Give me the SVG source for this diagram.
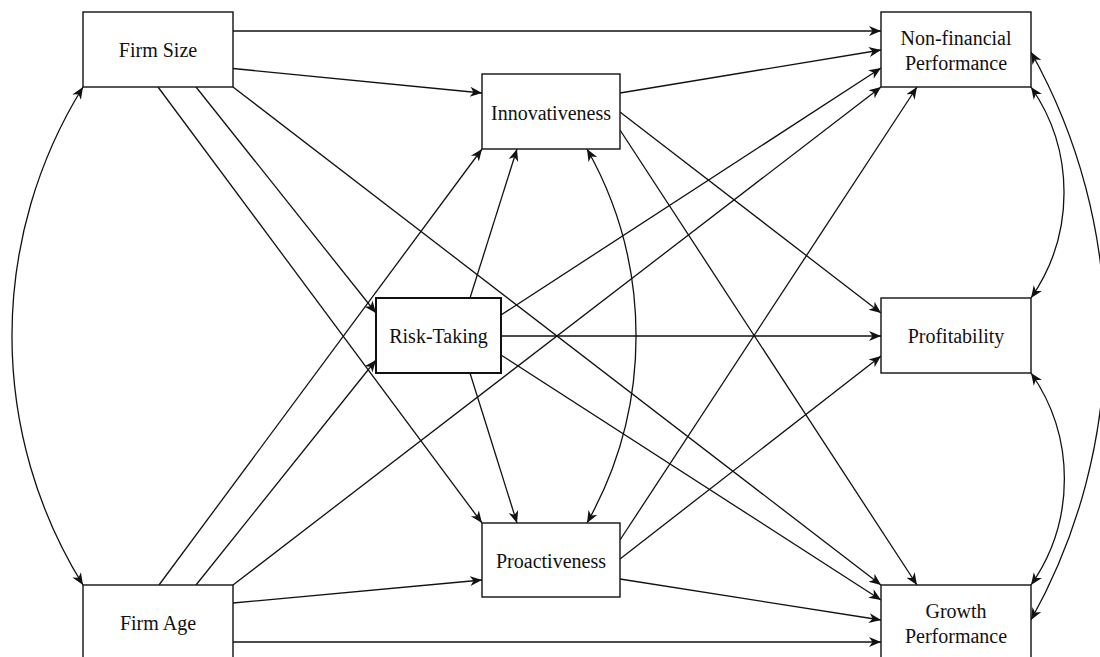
<svg xmlns="http://www.w3.org/2000/svg" width="1100" height="657" viewBox="0 0 1100 657">
  <style>
    .box { fill: #ffffff; stroke: #111111; stroke-width: 1.4; }
    .box.thick { stroke-width: 2; }
    .lbl { font-family: "Liberation Serif", "Times New Roman", serif; font-size: 20px; fill: #111111; text-anchor: middle; }
    .edge { fill: none; stroke: #111111; stroke-width: 1.3; marker-end: url(#head); }
    .both { fill: none; stroke: #111111; stroke-width: 1.3; marker-start: url(#head); marker-end: url(#head); }
  </style>
  <defs>
    <marker id="head" viewBox="0 -6 13 12" refX="12" refY="0" markerWidth="13" markerHeight="12" markerUnits="userSpaceOnUse" orient="auto-start-reverse">
      <path d="M0,-5 L12,0 L0,5 L3.5,0 Z" fill="#111111"/>
    </marker>
  </defs>
  <rect width="1100" height="657" fill="#ffffff"/>

  <g id="connectors">
    <!-- Firm Size -->
    <path class="edge" d="M233,31 L881,31"/>
    <path class="edge" d="M233,68.5 L482,93"/>
    <path class="edge" d="M196,87 L376,313"/>
    <path class="edge" d="M158,87 L482,523"/>
    <path class="edge" d="M233,87 L881,585"/>
    <!-- Firm Age -->
    <path class="edge" d="M159,585 L482,149"/>
    <path class="edge" d="M196,585 L376,360"/>
    <path class="edge" d="M233,585 L881,87"/>
    <path class="edge" d="M233,603 L482,580"/>
    <path class="edge" d="M233,642 L881,642"/>
    <!-- Innovativeness -->
    <path class="edge" d="M620,93 L881,50"/>
    <path class="edge" d="M620,112 L881,313"/>
    <path class="edge" d="M620,130 L917,585"/>
    <!-- Risk-Taking -->
    <path class="edge" d="M470,298 L517,149"/>
    <path class="edge" d="M470,373 L517,523"/>
    <path class="edge" d="M501,315 L881,68"/>
    <path class="edge" d="M501,336 L881,336"/>
    <path class="edge" d="M501,355 L881,600"/>
    <!-- Proactiveness -->
    <path class="edge" d="M620,540 L917,87"/>
    <path class="edge" d="M620,559 L881,356"/>
    <path class="edge" d="M620,579 L881,620"/>
    <!-- Covariances -->
    <path class="both" d="M83,87 A472,472 0 0,0 83,585"/>
    <path class="both" d="M587,149 A381,381 0 0,1 587,523"/>
    <path class="both" d="M1031,87 A185,185 0 0,1 1031,298"/>
    <path class="both" d="M1031,373 A185,185 0 0,1 1031,585"/>
    <path class="both" d="M1031,52 A582,582 0 0,1 1031,620"/>
  </g>

  <g id="firm-size">
    <rect class="box" x="83" y="12" width="150" height="75"/>
    <text class="lbl" x="158" y="57">Firm Size</text>
  </g>
  <g id="firm-age">
    <rect class="box" x="83" y="585" width="150" height="75"/>
    <text class="lbl" x="158" y="630">Firm Age</text>
  </g>
  <g id="innovativeness">
    <rect class="box" x="482" y="74" width="138" height="75"/>
    <text class="lbl" x="551" y="119.5">Innovativeness</text>
  </g>
  <g id="risk-taking">
    <rect class="box thick" x="376" y="298" width="125" height="75"/>
    <text class="lbl" x="438.5" y="343">Risk-Taking</text>
  </g>
  <g id="proactiveness">
    <rect class="box" x="482" y="523" width="138" height="74"/>
    <text class="lbl" x="551" y="567.5">Proactiveness</text>
  </g>
  <g id="non-financial-performance">
    <rect class="box" x="881" y="12" width="150" height="75"/>
    <text class="lbl" x="956" y="45">Non-financial</text>
    <text class="lbl" x="956" y="69.5">Performance</text>
  </g>
  <g id="profitability">
    <rect class="box" x="881" y="298" width="150" height="75"/>
    <text class="lbl" x="956" y="343">Profitability</text>
  </g>
  <g id="growth-performance">
    <rect class="box" x="881" y="585" width="150" height="75"/>
    <text class="lbl" x="956" y="617.5">Growth</text>
    <text class="lbl" x="956" y="642.5">Performance</text>
  </g>
</svg>
